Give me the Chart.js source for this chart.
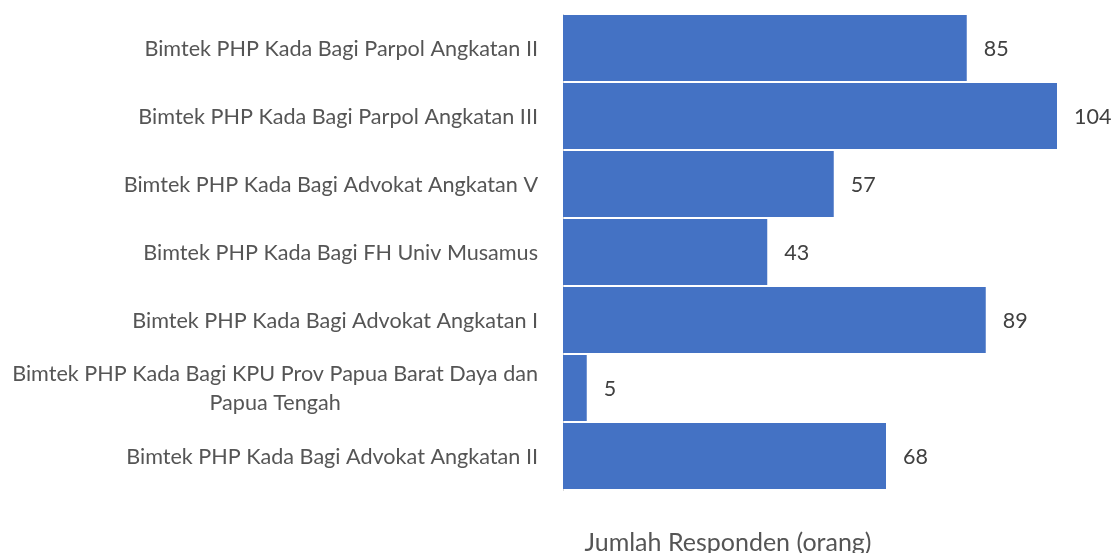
<!DOCTYPE html>
<html>
<head>
<meta charset="utf-8">
<script src="https://cdn.jsdelivr.net/npm/chart.js@4/dist/chart.umd.min.js"></script>
<style>
html,body{margin:0;padding:0;background:#fff;}
#wrap{width:1112px;height:553px;}
</style>
</head>
<body>
<div id="wrap"><canvas id="c" width="1112" height="553"></canvas></div>
<script>
const categories = [
  ["Bimtek PHP Kada Bagi Parpol Angkatan II"],
  ["Bimtek PHP Kada Bagi Parpol Angkatan III"],
  ["Bimtek PHP Kada Bagi Advokat Angkatan V"],
  ["Bimtek PHP Kada Bagi FH Univ Musamus"],
  ["Bimtek PHP Kada Bagi Advokat Angkatan I"],
  ["Bimtek PHP Kada Bagi KPU Prov Papua Barat Daya dan", "Papua Tengah"],
  ["Bimtek PHP Kada Bagi Advokat Angkatan II"]
];
const respondents = [85, 104, 57, 43, 89, 5, 68];
const axisTitle = "Jumlah Responden (orang)";

const FONT = "Lato, 'Open Sans', sans-serif";

const labelPlugin = {
  id: 'labelPlugin',
  afterDatasetsDraw(chart) {
    const ctx = chart.ctx;
    const meta = chart.getDatasetMeta(0);
    const yScale = chart.scales.y;
    const area = chart.chartArea;
    ctx.save();
    // category labels
    ctx.font = "21.6px " + FONT;
    ctx.fillStyle = '#555555';
    ctx.textBaseline = 'middle';
    const rightX = area.left - 25;
    const lh = 29;
    categories.forEach((lines, i) => {
      const cy = yScale.getPixelForValue(i) + 1;
      let maxW = 0;
      lines.forEach(l => { maxW = Math.max(maxW, ctx.measureText(l).width); });
      const cx = rightX - maxW / 2;
      ctx.textAlign = 'center';
      const y0 = cy - (lines.length - 1) * lh / 2;
      lines.forEach((l, k) => ctx.fillText(l, cx, y0 + k * lh));
    });
    // value labels
    ctx.font = "21.5px " + FONT;
    ctx.fillStyle = '#404040';
    ctx.textAlign = 'left';
    meta.data.forEach((bar, i) => {
      ctx.fillText(String(respondents[i]), bar.x + 17, bar.y + 1);
    });
    // axis title
    ctx.font = "25px " + FONT;
    ctx.fillStyle = '#555555';
    ctx.textAlign = 'center';
    ctx.fillText(axisTitle, 728, 543);
    ctx.restore();
  }
};

new Chart(document.getElementById('c'), {
  type: 'bar',
  data: {
    labels: categories.map(c => c.join(' ')),
    datasets: [{
      data: respondents,
      backgroundColor: '#4472C4',
      borderWidth: 0,
      barPercentage: 0.97,
      categoryPercentage: 1.0
    }]
  },
  options: {
    indexAxis: 'y',
    responsive: false,
    animation: false,
    devicePixelRatio: 1,
    layout: { padding: { top: 14, bottom: 63, right: 26.5, left: 0 } },
    plugins: { legend: { display: false }, tooltip: { enabled: false } },
    scales: {
      x: {
        display: false,
        min: 0,
        max: 110
      },
      y: {
        display: true,
        ticks: { display: false },
        grid: { display: false, drawTicks: false },
        border: { display: true, color: '#d9d9d9', width: 1 },
        afterFit(scale) { scale.width = 563; }
      }
    }
  },
  plugins: [labelPlugin]
});
</script>
</body>
</html>
